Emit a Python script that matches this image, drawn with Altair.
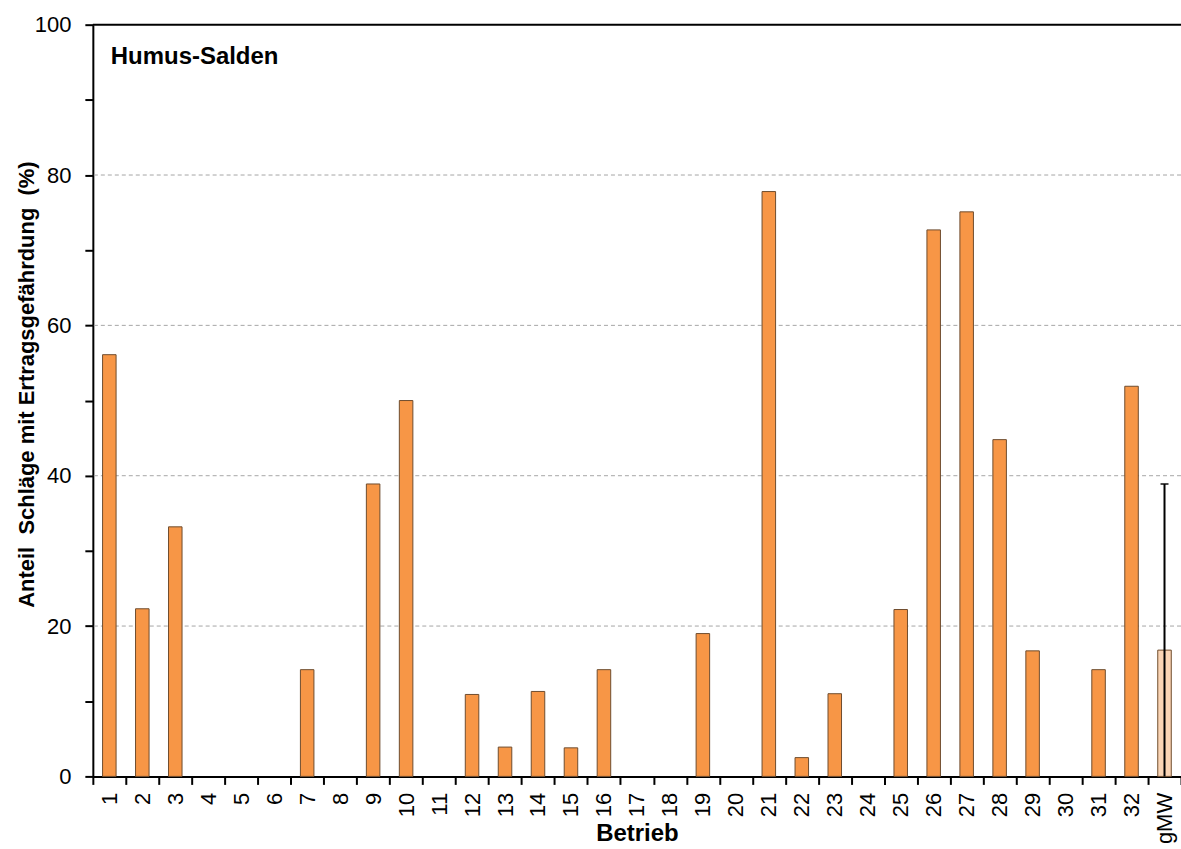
import altair as alt
import pandas as pd

# Farm numbers on the x axis, plus the overall mean ("gMW") at the end
betriebe = [str(i) for i in range(1, 33)] + ["gMW"]

# Share of fields with yield risk (%) per farm
anteil = [56.1, 22.3, 33.2, 0, 0, 0, 14.2, 0, 38.9, 50.0,
          0, 10.9, 3.9, 11.3, 3.8, 14.2, 0, 0, 19.0, 0,
          77.8, 2.5, 11.0, 0, 22.2, 72.7, 75.1, 44.8, 16.7, 0,
          14.2, 51.9, 16.8]

# Spread shown on the mean bar
gmw_low = [0.0]
gmw_high = [38.9]

panel_label = "Humus-Salden"
# non-breaking spaces keep the double gaps in the rendered title
y_title = "Anteil\u00a0\u00a0Schläge mit Ertragsgefährdung\u00a0\u00a0(%)"
x_title = "Betrieb"

y_ticks = list(range(0, 101, 10))
grid_values = [20, 40, 60, 80]

df = pd.DataFrame({
    "Betrieb": betriebe,
    "Anteil": anteil,
    "Art": ["Betrieb"] * 32 + ["Mittel"],
})
df_err = pd.DataFrame({"Betrieb": ["gMW"], "lo": gmw_low, "hi": gmw_high})
df_grid = pd.DataFrame({"g": grid_values})

FONT = "Liberation Sans"

x_scale = alt.Scale(domain=betriebe, paddingInner=0, paddingOuter=0)
y_scale = alt.Scale(domain=[0, 100], nice=False)

x_axis = alt.Axis(
    title=x_title,
    labelAngle=-90,
    labelAlign="right",
    labelBaseline="middle",
    labelFontSize=22,
    labelPadding=8,
    tickBand="extent",
    grid=False,
    titleFontSize=24,
    titleY=64,
    titleBaseline="alphabetic",
)

y_axis = alt.Axis(
    title=y_title,
    values=y_ticks,
    labelExpr="datum.value % 20 === 0 ? datum.label : ''",
    labelFontSize=22,
    labelPadding=14,
    grid=False,
    titleFontSize=22,
    titleAngle=270,
    titleX=-66,
    titleY=360,
    titleAlign="center",
    titleBaseline="middle",
)

grid = alt.Chart(df_grid).mark_rule(color="#a6a6a6", strokeWidth=1, strokeDash=[4, 3]).encode(
    y=alt.Y("g:Q", scale=y_scale, axis=y_axis),
)

bars = alt.Chart(df).transform_filter("datum.Anteil > 0").mark_bar(
    width=alt.RelativeBandSize(0.41),
    stroke="#6e4c2e",
    strokeWidth=1,
).encode(
    x=alt.X("Betrieb:N", scale=x_scale, axis=x_axis, sort=None),
    y=alt.Y("Anteil:Q", scale=y_scale, axis=y_axis),
    fill=alt.Fill("Art:N", scale=alt.Scale(domain=["Betrieb", "Mittel"],
                                           range=["#F79646", "#FBD5B5"]), legend=None),
)

err_line = alt.Chart(df_err).mark_rule(color="black", strokeWidth=2).encode(
    x=alt.X("Betrieb:N", scale=x_scale, axis=x_axis, sort=None),
    y=alt.Y("lo:Q", scale=y_scale, axis=y_axis),
    y2="hi:Q",
)

err_cap = alt.Chart(df_err).mark_tick(color="black", size=8, thickness=2).encode(
    x=alt.X("Betrieb:N", scale=x_scale, axis=x_axis, sort=None),
    y=alt.Y("hi:Q", scale=y_scale, axis=y_axis),
)

# Frame line along the top of the plot area
top_line = alt.Chart(df_err).mark_rule(color="black", strokeWidth=2).encode(
    y=alt.Y(datum=100, scale=y_scale, axis=y_axis),
)

label = alt.Chart(df_err).mark_text(
    align="left", baseline="middle", font=FONT, fontSize=24,
    fontWeight="bold", color="black",
).encode(
    x=alt.value(18),
    y=alt.value(32),
    text=alt.value(panel_label),
)

chart = alt.layer(grid, bars, err_line, err_cap, top_line, label).properties(
    width=1090,
    height=753,
    autosize=alt.AutoSizeParams(type="none"),
    padding={"left": 93, "top": 24, "right": 0, "bottom": 72},
    background="white",
).configure(
    font=FONT,
).configure_view(
    stroke=None,
).configure_axis(
    labelColor="black",
    labelFont=FONT,
    titleFont=FONT,
    titleColor="black",
    titleFontWeight="bold",
    tickColor="black",
    tickSize=8,
    tickWidth=2,
    domainColor="black",
    domainWidth=2,
)

chart.save("out.html", embed_options={"renderer": "svg", "actions": False})
